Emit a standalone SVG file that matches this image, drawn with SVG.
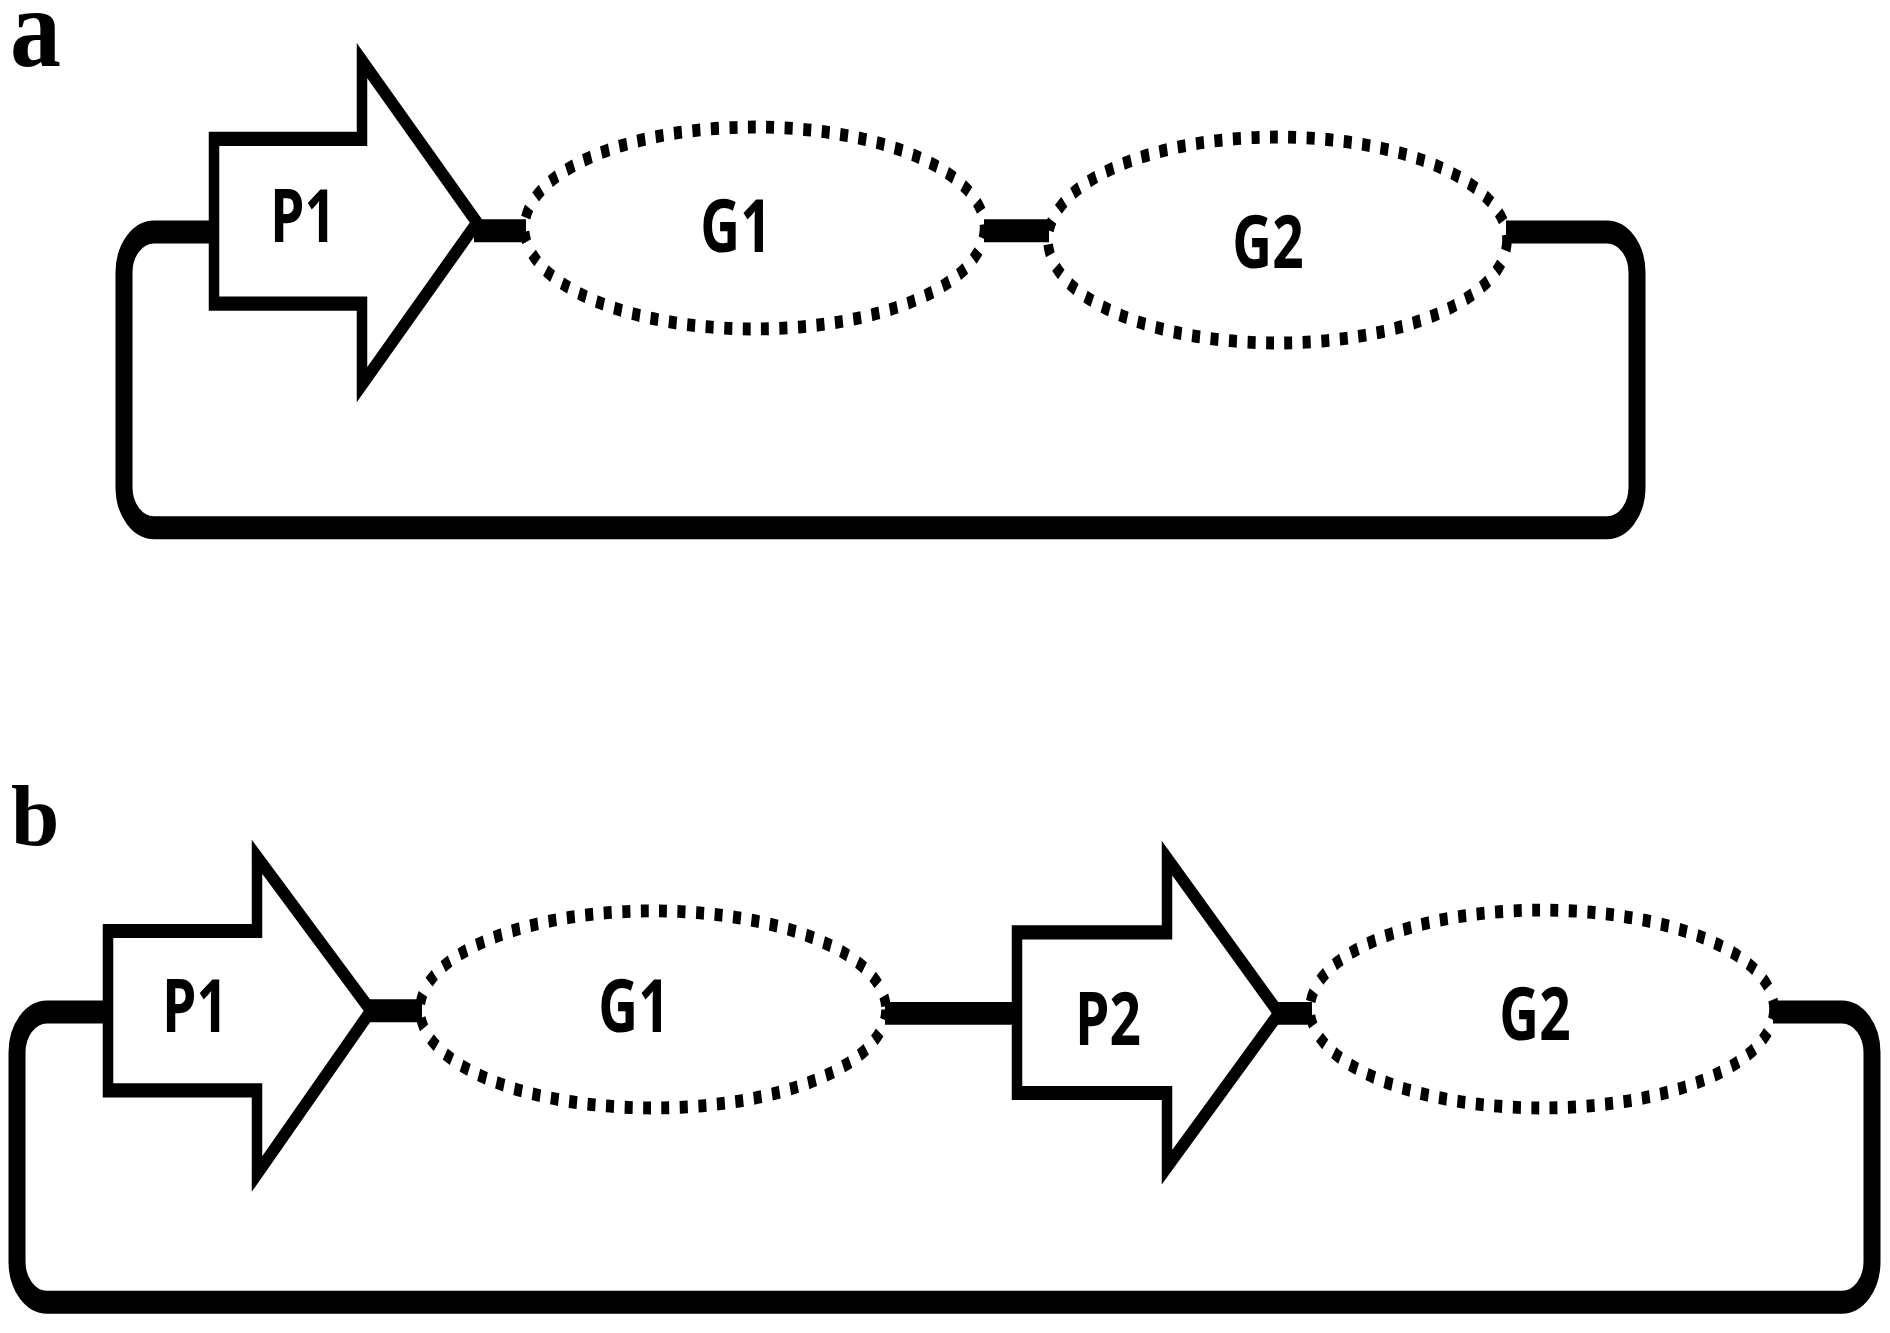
<svg xmlns="http://www.w3.org/2000/svg" width="1890" height="1333" viewBox="0 0 1890 1333">
<style>
.conn{fill:none;stroke:#000;stroke-width:17;stroke-linecap:butt}
.prom{fill:#fff;stroke:#000;stroke-width:10.5;stroke-linejoin:miter;stroke-miterlimit:6}
.gene{fill:none;stroke:#000;stroke-width:9.5;stroke-dasharray:8 10.5}
.lbl{font-family:"Open Sans","Liberation Sans",sans-serif;font-weight:700;font-size:55px;text-anchor:middle;fill:#000}
.panel{font-family:"Liberation Serif","Times New Roman",serif;font-weight:700;fill:#000}
</style>
<rect x="0" y="0" width="1890" height="1333" fill="#fff"/>
<text class="panel" transform="translate(10,66) scale(1,1.1)" font-size="102">a</text>
<text class="panel" x="11" y="845" font-size="87">b</text>

<g id="panel-a" transform="translate(0,228) scale(1,1.35)">
  <g id="connectors-a">
    <path class="conn" d="M 474 2 H 526"/>
    <path class="conn" d="M 984 2 H 1049"/>
    <path class="conn" d="M 214 3 H 154 A 30 30 0 0 0 124 33 V 192 A 30 30 0 0 0 154 222 H 1607 A 30 30 0 0 0 1637 192 V 33 A 30 30 0 0 0 1607 3 H 1506"/>
  </g>
  <g id="a-P1">
    <polygon class="prom" points="214,-66 362,-66 362,-124 477,-4 362,116 362,56 214,56"/>
    <text class="lbl" x="303" y="10.4">P1</text>
  </g>
  <g id="a-G1">
    <ellipse class="gene" cx="754.5" cy="0" rx="230" ry="74.8"/>
    <text class="lbl" x="736" y="17.8">G1</text>
  </g>
  <g id="a-G2">
    <ellipse class="gene" cx="1277.5" cy="8.9" rx="229.5" ry="76.3"/>
    <text class="lbl" x="1268" y="29.6">G2</text>
  </g>
</g>

<g id="panel-b" transform="translate(0,1012) scale(1,1.35)">
  <g id="connectors-b">
    <path class="conn" d="M 368 -1 H 422"/>
    <path class="conn" d="M 885 1 H 1018"/>
    <path class="conn" d="M 1276 1 H 1312"/>
    <path class="conn" d="M 108 0 H 47 A 30 30 0 0 0 17 30 V 185 A 30 30 0 0 0 47 215 H 1842 A 30 30 0 0 0 1872 185 V 30 A 30 30 0 0 0 1842 0 H 1773"/>
  </g>
  <g id="b-P1">
    <polygon class="prom" points="108,-60 257,-60 257,-115 371,-1 257,120 257,58 108,58"/>
    <text class="lbl" x="195" y="14.8">P1</text>
  </g>
  <g id="b-G1">
    <ellipse class="gene" cx="653" cy="-1.9" rx="233" ry="73"/>
    <text class="lbl" x="634" y="14.8">G1</text>
  </g>
  <g id="b-P2">
    <polygon class="prom" points="1017,-59 1167,-59 1167,-114 1279,1 1167,115 1167,60 1017,60"/>
    <text class="lbl" x="1108" y="24.4">P2</text>
  </g>
  <g id="b-G2">
    <ellipse class="gene" cx="1542" cy="-2.2" rx="232" ry="73.3"/>
    <text class="lbl" x="1535" y="20.7">G2</text>
  </g>
</g>
</svg>
